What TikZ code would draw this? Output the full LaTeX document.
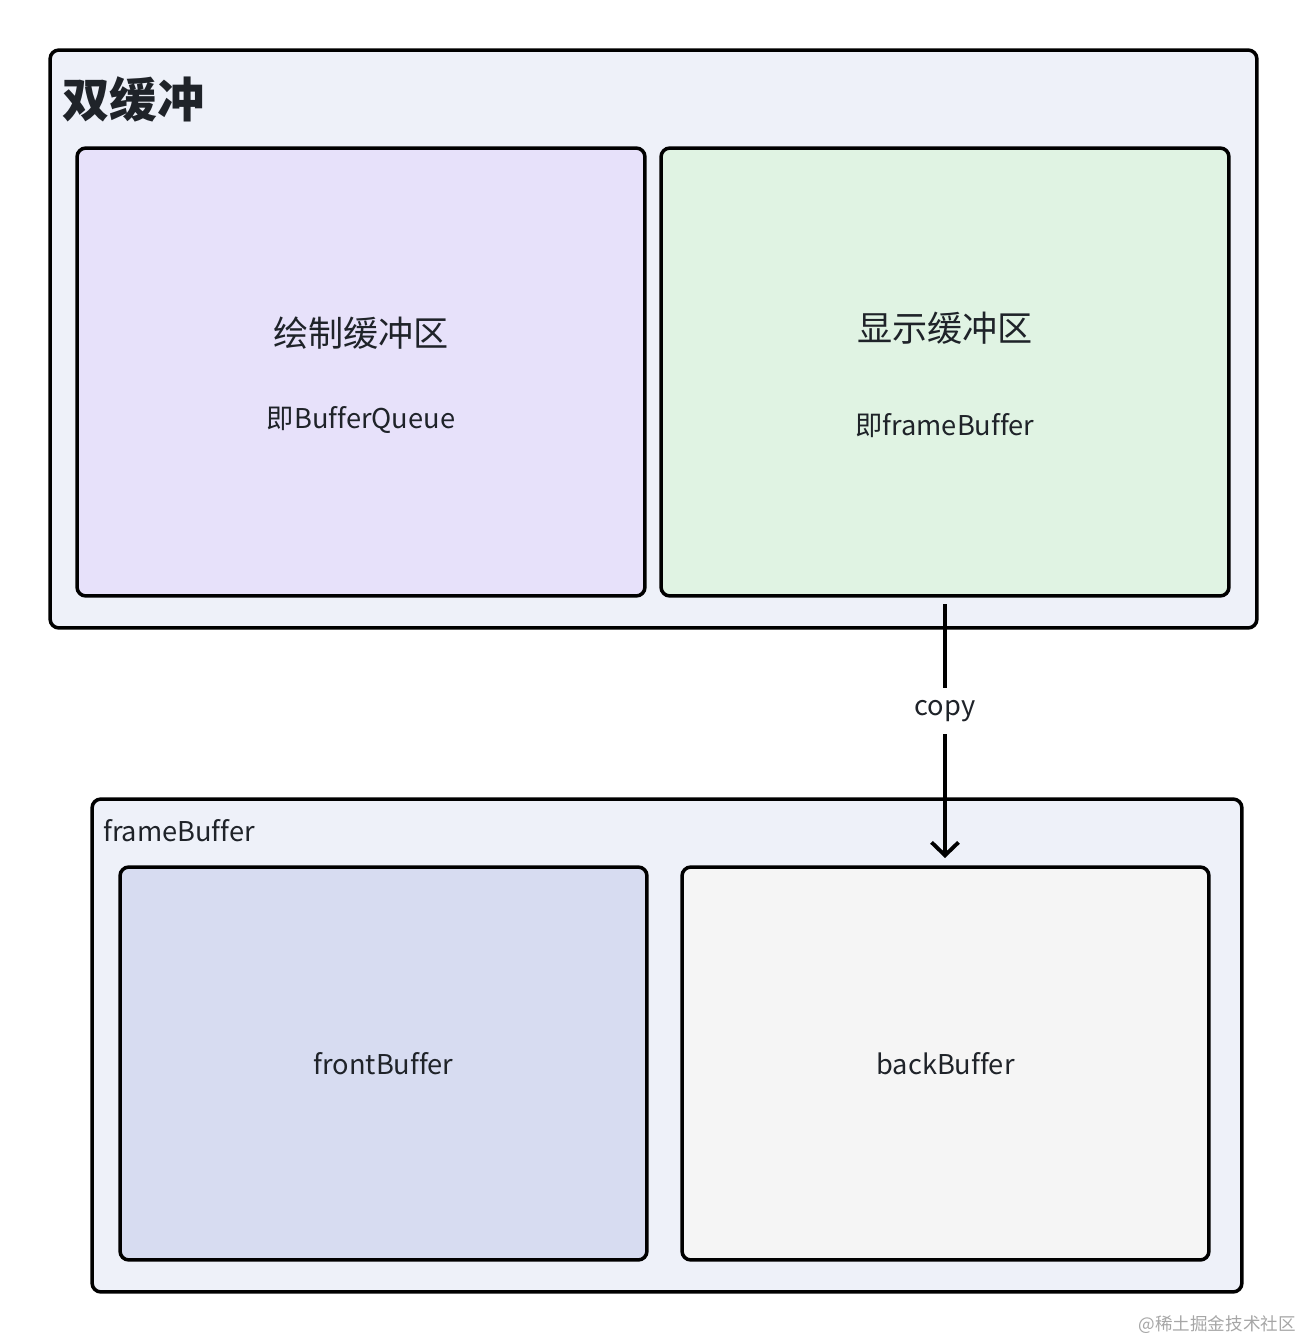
\documentclass[tikz,border=0pt]{standalone}
\usepackage{fontspec}
\setmainfont{Noto Sans CJK SC}[Ligatures=NoCommon]
\usetikzlibrary{arrows.meta,positioning}

\definecolor{framebg}{HTML}{EEF1F9}
\definecolor{drawbg}{HTML}{E7E1FA}
\definecolor{showbg}{HTML}{E0F3E3}
\definecolor{frontbg}{HTML}{D7DCF1}
\definecolor{backbg}{HTML}{F5F5F5}
\definecolor{ink}{HTML}{1F2329}

\begin{document}
\begin{tikzpicture}[
  x=0.02cm, y=-0.02cm,
  frame/.style={draw=black, line width=2pt, rounded corners=5pt, fill=framebg},
  buf/.style={draw=black, line width=2pt, rounded corners=5pt, minimum width=11.36cm, minimum height=8.96cm},
  fbuf/.style={draw=black, line width=2pt, rounded corners=5pt, minimum width=10.54cm, minimum height=7.86cm, text=ink, font=\fontsize{15.5}{18}\selectfont},
  big/.style={text=ink, font=\fontsize{20}{24}\selectfont},
  small/.style={text=ink, font=\fontsize{15.5}{18}\selectfont},
  arrow/.style={-{Straight Barb[length=2.6mm,width=5.4mm]}, line width=2.2pt, draw=black}
]
\useasboundingbox (0,0) rectangle (1308,1342);

% double buffer group
\node[frame, minimum width=24.14cm, minimum height=11.56cm] (dbl) at (653.5,339) {};
\node[anchor=west, text=ink, font=\fontsize{27}{30}\selectfont\bfseries] (dbltitle) at (56,99) {双缓冲};

\node[buf, fill=drawbg] (draw) at (361,372) {};
\node[big] (drawname) at (361,333) {绘制缓冲区};
\node[small] (drawnote) at (361,420) {即BufferQueue};

\node[buf, fill=showbg] (show) at (945,372) {};
\node[big] (showname) at (945,328) {显示缓冲区};
\node[small] (shownote) at (945,426) {即frameBuffer};

% frameBuffer group
\node[frame, minimum width=23cm, minimum height=9.86cm] (fb) at (667,1045.5) {};
\node[anchor=west, small] (fbtitle) at (97,831) {frameBuffer};

\node[fbuf, fill=frontbg] (front) at (383.5,1063.5) {frontBuffer};
\node[fbuf, fill=backbg] (back) at (945.5,1063.5) {backBuffer};

\coordinate (copyfrom) at (945,604);
\coordinate (copyto) at (945,858);
\draw[arrow] (copyfrom) -- node[pos=0.42, fill=white, small, inner sep=7pt] (copylabel) {copy} (copyto);

\node[anchor=east, text=black!35, font=\fontsize{10}{12}\selectfont] (mark) at (1302,1325) {@稀土掘金技术社区};

\end{tikzpicture}
\end{document}
